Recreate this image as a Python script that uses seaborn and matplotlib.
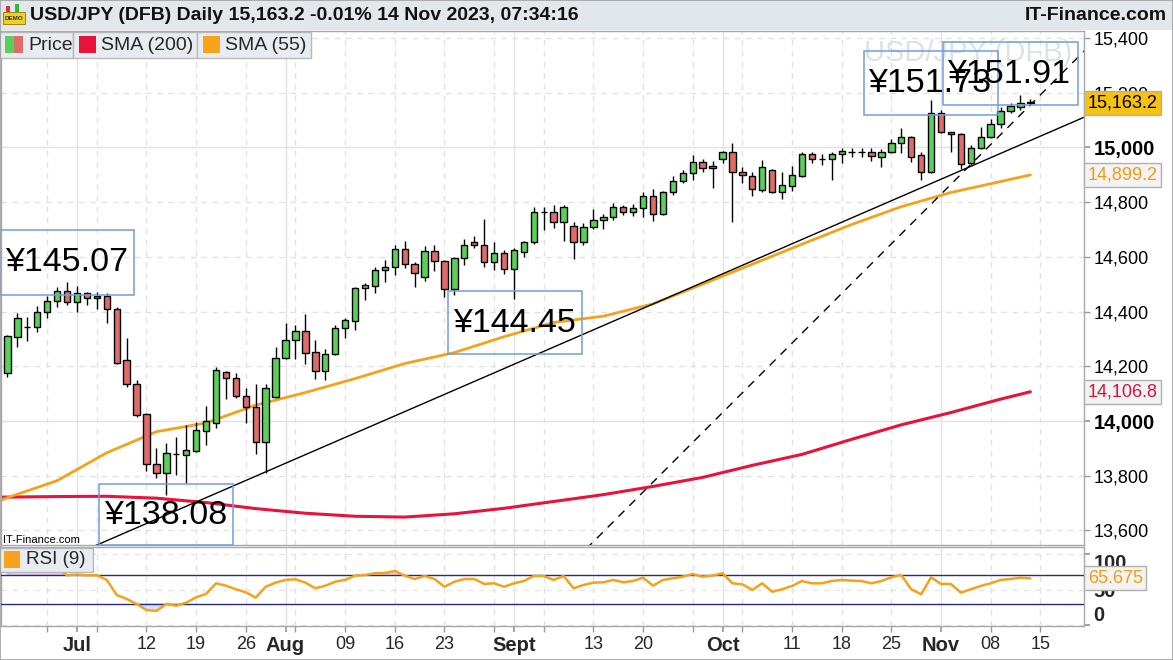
import numpy as np
import pandas as pd
import matplotlib
matplotlib.use("Agg")
import matplotlib.pyplot as plt
import seaborn as sns
from matplotlib.patches import Rectangle

# ---------------- data ----------------
dates = pd.bdate_range("2023-06-22", "2023-11-14")

opens = [14175, 14307, 14343, 14343, 14398, 14438, 14475, 14435, 14468, 14455,
         14457, 14409, 14223, 14135, 14026, 13843, 13810, 13879, 13876, 13890,
         13963, 13993, 14179, 14157, 14091, 14051, 13923, 14088, 14230, 14296,
         14329, 14252, 14183, 14245, 14340, 14365, 14486, 14493, 14552, 14563,
         14628, 14574, 14526, 14621, 14584, 14482, 14595, 14654, 14643, 14581,
         14614, 14555, 14617, 14654, 14763, 14763, 14727, 14712, 14654, 14709,
         14734, 14745, 14782, 14763, 14778, 14822, 14756, 14837, 14877, 14906,
         14946, 14924, 14957, 14983, 14910, 14895, 14844, 14917, 14837, 14858,
         14895, 14975, 14957, 14957, 14975, 14984, 14983, 14983, 14964, 14983,
         15016, 15037, 14972, 14910, 15125, 15056, 15048, 14942, 14997, 15037,
         15085, 15132, 15147, 15165]
highs = [14314, 14395, 14380, 14420, 14457, 14490, 14508, 14493, 14471, 14471,
         14468, 14416, 14303, 14150, 14029, 13901, 13920, 13942, 13985, 13996,
         14055, 14197, 14183, 14175, 14121, 14135, 14135, 14270, 14358, 14351,
         14391, 14296, 14263, 14351, 14376, 14490, 14504, 14563, 14588, 14643,
         14658, 14581, 14639, 14643, 14590, 14599, 14665, 14676, 14738, 14654,
         14625, 14632, 14658, 14782, 14782, 14789, 14789, 14727, 14723, 14774,
         14756, 14796, 14789, 14793, 14837, 14848, 14840, 14895, 14917, 14972,
         14957, 14950, 14986, 15016, 14928, 14910, 14953, 14920, 14910, 14931,
         14983, 14983, 14975, 14983, 14997, 14997, 14997, 14997, 14994, 15030,
         15070, 15041, 14983, 15173, 15136, 15056, 15052, 15008, 15074, 15103,
         15147, 15162, 15191, 15176]
lows = [14161, 14270, 14292, 14325, 14376, 14416, 14424, 14398, 14424, 14409,
        14358, 14208, 14124, 14015, 13817, 13792, 13730, 13803, 13774, 13887,
        13912, 13974, 14080, 14084, 13993, 13879, 13810, 14084, 14226, 14226,
        14208, 14153, 14150, 14241, 14303, 14332, 14442, 14468, 14508, 14533,
        14559, 14490, 14511, 14548, 14453, 14460, 14570, 14632, 14563, 14552,
        14537, 14446, 14599, 14647, 14698, 14705, 14658, 14592, 14643, 14701,
        14701, 14734, 14753, 14749, 14745, 14731, 14753, 14826, 14869, 14880,
        14910, 14851, 14942, 14727, 14869, 14822, 14837, 14833, 14811, 14840,
        14891, 14942, 14935, 14880, 14942, 14964, 14964, 14950, 14928, 14979,
        14979, 14946, 14880, 14906, 15052, 14983, 14921, 14935, 14994, 15034,
        15070, 15125, 15136, 15158]
closes = [14310, 14376, 14343, 14398, 14438, 14475, 14435, 14468, 14449, 14448,
          14409, 14212, 14135, 14022, 13843, 13810, 13883, 13879, 13894, 13967,
          14000, 14186, 14157, 14091, 14051, 13923, 14121, 14230, 14296, 14329,
          14248, 14183, 14245, 14340, 14369, 14486, 14497, 14552, 14563, 14628,
          14574, 14541, 14621, 14584, 14482, 14595, 14643, 14643, 14581, 14614,
          14555, 14625, 14654, 14763, 14763, 14727, 14782, 14654, 14709, 14734,
          14745, 14782, 14763, 14778, 14822, 14756, 14837, 14877, 14906, 14946,
          14924, 14931, 14983, 14910, 14899, 14848, 14928, 14837, 14862, 14899,
          14975, 14957, 14957, 14975, 14986, 14983, 14983, 14968, 14983, 15016,
          15037, 14964, 14910, 15125, 15056, 15048, 14939, 14997, 15037, 15085,
          15132, 15151, 15162, 15163.2]

sma_pos = [-1, 0, 5, 10, 15, 20, 25, 30, 35, 40, 45, 50, 55, 60, 65, 70, 75,
           80, 85, 90, 95, 100, 103]
sma55 = [13705, 13720, 13782, 13884, 13961, 13993, 14058, 14104, 14155, 14210,
         14250, 14308, 14360, 14383, 14428, 14500, 14573, 14646, 14718, 14783,
         14835, 14875, 14899.2]
sma200 = [13722, 13722, 13724, 13725, 13718, 13702, 13680, 13663, 13652, 13649,
          13661, 13681, 13706, 13731, 13761, 13794, 13838, 13878, 13933, 13986,
          14031, 14080, 14106.8]

rsi = [74, 76, 75, 77, 79, 80, 70, 71, 70, 70,
       63.5, 42.5, 37, 30, 21.6, 20.2, 30, 27.6, 31.8, 39.3,
       44, 58.8, 55.5, 50.5, 46.3, 38.8, 54, 59.7, 63.5, 64.4,
       59.7, 51.9, 55.5, 61, 63.5, 69.5, 70.4, 72.8, 73.2, 76,
       69.5, 64.8, 69, 64.8, 54, 61, 64.8, 64.8, 57.9, 58.8,
       54, 58.8, 62, 69, 69, 63.5, 69, 51.9, 56.5, 59.7,
       60.2, 63.5, 60.2, 62, 66.7, 55.5, 63.5, 65.8, 68, 71.8,
       68, 69.5, 72.8, 58.8, 57.4, 49.5, 58.8, 47.1, 50.5, 55.1,
       62, 58.8, 58.8, 62, 63.5, 62.5, 62, 58.8, 62, 67.2,
       70.4, 50.5, 43.5, 67.2, 57.9, 57.9, 45.8, 50.5, 55.1, 58.8,
       63.5, 64.8, 66.7, 65.675]

trend_solid_pos = [5, 110]
trend_solid_val = [13484, 15135]
trend_dash_pos = [55, 110]
trend_dash_val = [13414, 15409]

month_dates = ["2023-07-03", "2023-08-01", "2023-09-01", "2023-10-02", "2023-11-01"]
month_labels = ["Jul", "Aug", "Sept", "Oct", "Nov"]
week_dates = ["2023-06-28", "2023-07-05", "2023-07-12", "2023-07-19", "2023-07-26",
              "2023-08-02", "2023-08-09", "2023-08-16", "2023-08-23", "2023-08-30",
              "2023-09-06", "2023-09-13", "2023-09-20", "2023-09-27", "2023-10-04",
              "2023-10-11", "2023-10-18", "2023-10-25", "2023-11-08", "2023-11-15"]
week_labels = ["", "", "12", "19", "26", "", "09", "16", "23", "", "", "13", "20",
               "", "", "11", "18", "25", "08", "15"]
price_major = [14000, 15000]
price_minor = [13600, 13800, 14200, 14400, 14600, 14800, 15200, 15400]
rsi_ticks = [0, 50, 100]
rsi_bands = [30, 70]

callouts = ["¥145.07", "¥138.08", "¥144.45", "¥151.73", "¥151.91"]

# ---------------- style ----------------
sns.set_theme(style="white")
plt.rcParams["font.family"] = ["Liberation Sans", "DejaVu Sans"]

W, H = 1173, 660
def fx(px):
    return px / W
def fy(py):
    return 1 - py / H

fig = plt.figure(figsize=(W / 100, H / 100), dpi=100, facecolor="white")
ax = fig.add_axes([fx(1), fy(545), fx(1084) - fx(1), fy(31) - fy(545)])
axr = fig.add_axes([fx(1), fy(626), fx(1084) - fx(1), fy(547) - fy(626)], sharex=ax)

start = dates[0].strftime("%Y-%m-%d")
def pos(d):
    return int(np.busday_count(start, d))

x = np.arange(len(dates))
O = np.array(opens, float); C = np.array(closes, float)
Hh = np.array(highs, float); L = np.array(lows, float)
GREEN, RED = "#59d05a", "#e06b6b"
cols = [GREEN if c >= o else RED for o, c in zip(O, C)]

ax.vlines(x, L, Hh, color="black", lw=1, zorder=3)
ax.bar(x, np.abs(C - O), bottom=np.minimum(O, C), width=0.64, color=cols,
       edgecolor="black", linewidth=1, zorder=4)

sns.lineplot(x=sma_pos, y=sma200, ax=ax, color="#e8123c", lw=2.2, zorder=2, legend=False)
sns.lineplot(x=sma_pos, y=sma55, ax=ax, color="#f5a21a", lw=2.0, zorder=2, legend=False)
ax.plot(trend_solid_pos, trend_solid_val, color="black", lw=1, zorder=2.5)
ax.plot(trend_dash_pos, trend_dash_val, color="black", lw=1, ls=(0, (6, 5)), zorder=2.5)

ax.set_xlim(-0.65, 108.4)
ax.set_ylim(13547, 15425)

# gridlines & ticks
mpos = [pos(d) for d in month_dates]
wpos = [pos(d) for d in week_dates]
for a in (ax, axr):
    a.set_facecolor("white")
    a.set_xticks(mpos)
    a.set_xticks(wpos, minor=True)
    a.grid(which="major", axis="x", color="#e2e2e2", lw=1, ls="-", zorder=0)
    a.grid(which="minor", axis="x", color="#e2e2e2", lw=1, ls=(0, (4, 4)), zorder=0)
    for s in a.spines.values():
        s.set_color("#a8a8a8"); s.set_linewidth(1)

ax.tick_params(axis="x", which="both", length=0, labelbottom=False)
ax.yaxis.tick_right()
ax.set_yticks(price_major)
ax.set_yticks(price_minor, minor=True)
ax.set_yticklabels([f"{v:,}" for v in price_major], fontsize=14.5, fontweight="bold")
ax.set_yticklabels([f"{v:,}" for v in price_minor], minor=True, fontsize=13)
ax.tick_params(axis="y", which="both", direction="out", length=4, color="#999999",
               pad=3, labelcolor="black", right=True, left=False)
ax.grid(which="major", axis="y", color="#e2e2e2", lw=1, ls="-", zorder=0)
ax.grid(which="minor", axis="y", color="#e2e2e2", lw=1, ls=(0, (4, 4)), zorder=0)

# callout boxes
box_specs = [(-0.76, 12.74, 14460, 14698, -0.25, 14548),
             (9.22, 22.71, 13547, 13770, 9.72, 13624),
             (44.36, 57.86, 14245, 14475, 44.86, 14326),
             (86.25, 99.75, 15118, 15352, 86.65, 15203),
             (94.21, 107.8, 15154, 15384, 94.6, 15234)]
for txt, (x0, x1, y0, y1, tx, ty) in zip(callouts, box_specs):
    ax.add_patch(Rectangle((x0, y0), x1 - x0, y1 - y0, fill=False, ec="#6f9fdc",
                           lw=1.1, zorder=6, clip_on=False))
    ax.text(tx, ty, txt, fontsize=24.5, color="black", ha="left", va="baseline", zorder=7)

# watermark
ax.text(fx(968), fy(53), "USD/JPY (DFB)", transform=fig.transFigure, ha="center",
        va="center", fontsize=21, color="#dde2e8", zorder=0.5)
ax.text(fx(3), fy(540), "IT-Finance.com", transform=fig.transFigure, ha="left",
        va="center", fontsize=8, color="black", zorder=8)

# right value labels
ytr = ax.get_yaxis_transform()
ax.text(1.0035, closes[-1], f"{closes[-1]:,.1f}", transform=ytr, ha="left", va="center",
        fontsize=13, color="black", zorder=10, clip_on=False,
        bbox=dict(boxstyle="square,pad=0.2", fc="#f5c211", ec="#b0b0b0", lw=1))
ax.text(1.0035, sma55[-1], f"{sma55[-1]:,.1f}", transform=ytr, ha="left", va="center",
        fontsize=13, color="#f39c12", zorder=10, clip_on=False,
        bbox=dict(boxstyle="square,pad=0.2", fc="#f3f3f3", ec="#b0b0b0", lw=1))
ax.text(1.0035, sma200[-1], f"{sma200[-1]:,.1f}", transform=ytr, ha="left", va="center",
        fontsize=13, color="#e0103c", zorder=10, clip_on=False,
        bbox=dict(boxstyle="square,pad=0.2", fc="#f3f3f3", ec="#b0b0b0", lw=1))

# ---------------- RSI panel ----------------
rsi_arr = np.array(rsi)
sns.lineplot(x=x, y=rsi_arr, ax=axr, color="#f5a21a", lw=1.8, zorder=4, legend=False)
axr.fill_between(x, rsi_arr, rsi_bands[1], where=rsi_arr > rsi_bands[1],
                 interpolate=True, color="#e9cfe6", zorder=2)
axr.fill_between(x, rsi_arr, rsi_bands[0], where=rsi_arr < rsi_bands[0],
                 interpolate=True, color="#cfe4ef", zorder=2)
for b in rsi_bands:
    axr.axhline(b, color="#26288a", lw=1, zorder=3)
axr.set_ylim(-0.7, 109.4)
axr.yaxis.tick_right()
axr.set_yticks(rsi_ticks)
axr.set_yticklabels([str(v) for v in rsi_ticks], fontsize=14.5, fontweight="bold")
axr.tick_params(axis="y", direction="out", length=4, color="#999999", pad=3,
                right=True, left=False)
labs = axr.get_yticklabels()
labs[0].set_va("bottom"); labs[-1].set_va("top")
axr.grid(which="major", axis="y", color="#e6e6e6", lw=1, ls=(0, (4, 4)), zorder=0)

axr.set_xticklabels(month_labels, fontsize=14.5, fontweight="bold")
axr.set_xticklabels(week_labels, minor=True, fontsize=13)
axr.tick_params(axis="x", which="both", direction="out", length=4, color="#999999",
                pad=3.5, bottom=True)
axr.set_xlim(-0.65, 108.4)
axr.text(1.0035, rsi[-1], f"{rsi[-1]:.3f}", transform=axr.get_yaxis_transform(),
         ha="left", va="center", fontsize=13, color="#f39c12", zorder=10, clip_on=False,
         bbox=dict(boxstyle="square,pad=0.2", fc="#f3f3f3", ec="#b0b0b0", lw=1))
axr.set_xlabel(""); axr.set_ylabel(""); ax.set_xlabel(""); ax.set_ylabel("")

# ---------------- header / legends ----------------
def frect(x0, y0, x1, y1, **kw):
    fig.patches.append(Rectangle((fx(x0), fy(y1)), fx(x1) - fx(x0), fy(y0) - fy(y1),
                                 transform=fig.transFigure, figure=fig, **kw))

frect(0, 0, W, 30, fc="#e2e7ec", ec="none", zorder=1)
frect(3, 12, 25, 24, fc="#f0d020", ec="#8a7a10", lw=0.6, zorder=2)
frect(6, 6, 10, 12, fc="#d33", ec="none", zorder=2)
frect(15, 4, 19, 12, fc="#3b3", ec="none", zorder=2)
fig.text(fx(14), fy(18.5), "DEMO", fontsize=4.5, fontweight="bold", ha="center",
         va="center", color="#333")
fig.text(fx(30), fy(15), "USD/JPY (DFB) Daily 15,163.2 -0.01% 14 Nov 2023, 07:34:16",
         fontsize=14, fontweight="bold", ha="left", va="center", color="#111")
fig.text(fx(1167), fy(15), "IT-Finance.com", fontsize=14, fontweight="bold",
         ha="right", va="center", color="#111")

LEG_FC, LEG_EC = "#e8ecf0", "#b5b9bd"
frect(0, 32, 73, 58, fc=LEG_FC, ec=LEG_EC, lw=1, zorder=2)
frect(5, 36, 14, 53, fc=GREEN, ec="none", zorder=3)
frect(14, 36, 23, 53, fc=RED, ec="none", zorder=3)
fig.text(fx(28), fy(45.5), "Price", fontsize=14, ha="left", va="center")
frect(73, 32, 197, 58, fc=LEG_FC, ec=LEG_EC, lw=1, zorder=2)
frect(79, 36, 96, 53, fc="#e8123c", ec="none", zorder=3)
fig.text(fx(101), fy(45.5), "SMA (200)", fontsize=14, ha="left", va="center")
frect(197, 32, 311, 58, fc=LEG_FC, ec=LEG_EC, lw=1, zorder=2)
frect(203, 36, 220, 53, fc="#f7a21b", ec="none", zorder=3)
fig.text(fx(225), fy(45.5), "SMA (55)", fontsize=14, ha="left", va="center")

frect(0, 548, 93, 572, fc=LEG_FC, ec=LEG_EC, lw=1, zorder=2)
frect(4, 551, 20, 568, fc="#f7a21b", ec="none", zorder=3)
fig.text(fx(26), fy(560), "RSI (9)", fontsize=13.5, ha="left", va="center")

frect(0, 0, W, H, fill=False, ec="#a0a0a0", lw=1.2, zorder=5)

fig.savefig("out.png", dpi=100, facecolor="white")
